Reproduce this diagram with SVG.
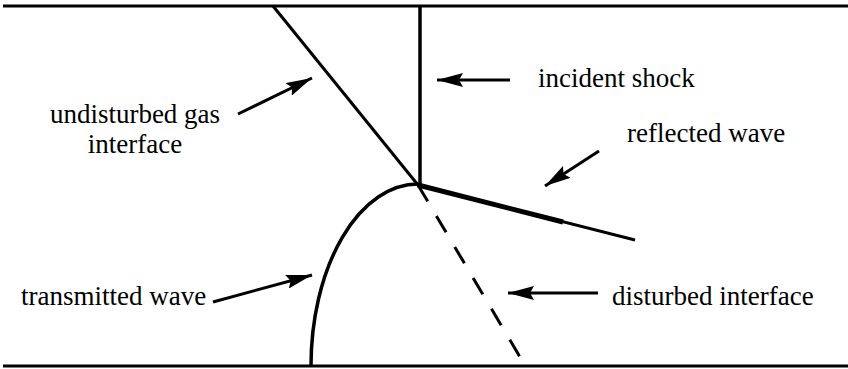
<svg xmlns="http://www.w3.org/2000/svg" width="848" height="369" viewBox="0 0 848 369">
<style>
.ln{stroke:#000;fill:none;stroke-linecap:butt}
.arr{stroke:#000;stroke-width:3;fill:none;marker-end:url(#ah)}
</style>
<defs>
<marker id="ah" viewBox="0 0 26 14" refX="26" refY="7" markerWidth="26" markerHeight="14" markerUnits="userSpaceOnUse" orient="auto">
<path d="M0,0 L26,7 L0,14 L4,7 z" fill="#000"/>
</marker>
</defs>
<rect width="848" height="369" fill="#fff"/>
<g id="walls">
<line class="ln" x1="3" y1="6" x2="848" y2="6" stroke-width="3"/>
<line class="ln" x1="3" y1="366" x2="848" y2="366" stroke-width="3"/>
</g>
<g id="incident-shock">
<line class="ln" x1="420" y1="6" x2="420" y2="186" stroke-width="3.5"/>
</g>
<g id="undisturbed-interface">
<line class="ln" x1="273" y1="6" x2="418" y2="185" stroke-width="3"/>
</g>
<g id="reflected-wave">
<line class="ln" x1="418" y1="185" x2="635" y2="240" stroke-width="3"/>
<line class="ln" x1="418" y1="185" x2="563" y2="222" stroke-width="5"/>
</g>
<g id="transmitted-wave">
<path class="ln" d="M418,184 A107,182 0 0 0 311,366" stroke-width="3.5"/>
</g>
<g id="disturbed-interface">
<line class="ln" x1="418" y1="185" x2="520" y2="357" stroke-width="3" stroke-dasharray="19 17"/>
</g>
<g id="connectors">
<line class="arr" x1="238" y1="114" x2="312" y2="78"/>
<line class="arr" x1="510" y1="80" x2="437" y2="80"/>
<line class="arr" x1="599" y1="151" x2="545" y2="186"/>
<line class="arr" x1="213" y1="302" x2="312" y2="275"/>
<line class="arr" x1="598" y1="293" x2="508" y2="293"/>
</g>
<g id="labels" font-family="Liberation Serif, DejaVu Serif, serif" font-size="27" fill="#000">
<text x="135" y="123" text-anchor="middle">undisturbed gas</text>
<text x="135" y="153" text-anchor="middle">interface</text>
<text x="538" y="87">incident shock</text>
<text x="627" y="142">reflected wave</text>
<text x="21" y="305">transmitted wave</text>
<text x="612" y="305">disturbed interface</text>
</g>
</svg>
